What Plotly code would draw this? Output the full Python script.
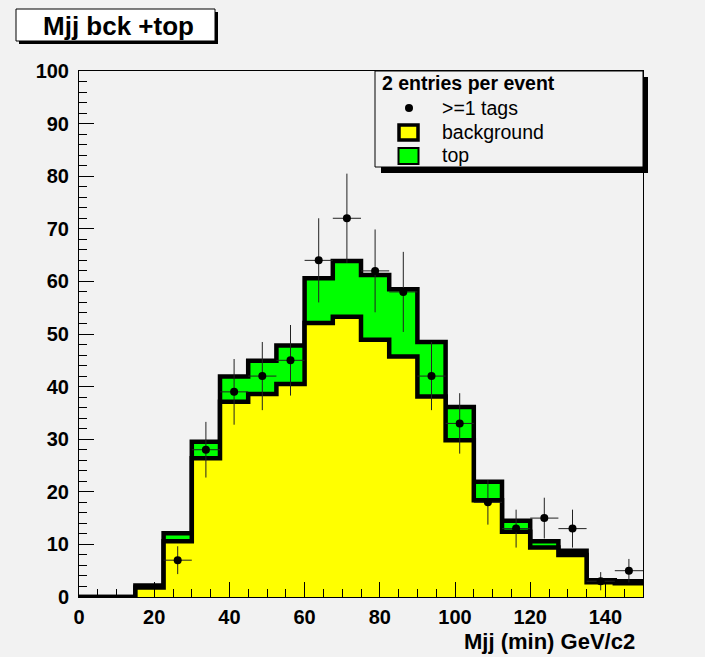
import numpy as np
import plotly.graph_objects as go

# ---- data ----
bin_edges = [0, 7.5, 15, 22.5, 30, 37.5, 45, 52.5, 60, 67.5, 75, 82.5, 90,
             97.5, 105, 112.5, 120, 127.5, 135, 142.5, 150]
background = [0, 0, 1.8, 10.6, 26.4, 37.1, 38.6, 40.5, 52.1, 53.3, 48.9, 45.7,
              38.1, 29.8, 18.4, 12.4, 9.4, 8.0, 2.8, 2.6]
bkg_plus_top = [0, 0, 2.2, 12.1, 29.5, 41.9, 44.9, 47.8, 60.6, 63.9, 61.2, 58.5,
                48.5, 36.1, 21.9, 14.5, 10.6, 8.8, 3.2, 3.0]
data_tagged = [0, 0, 0, 7, 28, 39, 42, 45, 64, 72, 62, 58, 42, 33, 18, 13, 15, 13, 3, 5]

title_text = "Mjj bck +top"
legend_title = "2 entries per event"
legend_labels = [">=1 tags", "background", "top"]
x_title = "Mjj (min) GeV/c2"

edges = np.array(bin_edges)
centers = 0.5 * (edges[:-1] + edges[1:])
half_w = 0.5 * (edges[1:] - edges[:-1])

def step(vals):
    xs = list(edges)
    ys = list(vals) + [vals[-1]]
    return xs, ys

BG = "#f2f2f2"
FONT = "Liberation Sans, Arial"
fig = go.Figure()

xs, ys = step(bkg_plus_top)
fig.add_trace(go.Scatter(x=xs, y=ys, mode="lines", line=dict(shape="hv", color="black", width=4.5),
                         fill="tozeroy", fillcolor="#00ff00", name="top", showlegend=False))
xs, ys = step(background)
fig.add_trace(go.Scatter(x=xs, y=ys, mode="lines", line=dict(shape="hv", color="black", width=4.5),
                         fill="tozeroy", fillcolor="#ffff00", name="background", showlegend=False))

dmask = [i for i, v in enumerate(data_tagged) if v > 0]
dx = [centers[i] for i in dmask]
dy = [data_tagged[i] for i in dmask]
fig.add_trace(go.Scatter(
    x=dx, y=dy, mode="markers",
    marker=dict(color="black", size=8),
    error_y=dict(type="data", array=[np.sqrt(v) for v in dy], color="#222222", thickness=1, width=0),
    error_x=dict(type="data", array=[half_w[i] for i in dmask], color="#222222", thickness=1, width=0),
    name=">=1 tags", showlegend=False))

# pixel -> paper helpers (plot area: x 79..643, y 71..597)
L, R, T, B = 79, 643, 71, 597
def px(x):
    return (x - L) / (R - L)
def py(y):
    return (B - y) / (B - T)

shapes = []
annotations = []

# title box
shapes.append(dict(type="rect", xref="paper", yref="paper", x0=px(19), x1=px(218), y0=py(12), y1=py(44),
                   fillcolor="black", line=dict(width=0), layer="above"))
shapes.append(dict(type="rect", xref="paper", yref="paper", x0=px(16), x1=px(215), y0=py(9), y1=py(41),
                   fillcolor="white", line=dict(color="black", width=1), layer="above"))
annotations.append(dict(text="<b>%s</b>" % title_text, xref="paper", yref="paper", x=px(118), y=py(26),
                        xanchor="center", yanchor="middle", showarrow=False,
                        font=dict(family=FONT, size=26, color="black")))

# legend box
shapes.append(dict(type="rect", xref="paper", yref="paper", x0=px(381), x1=px(648), y0=py(77), y1=py(173),
                   fillcolor="black", line=dict(width=0), layer="above"))
shapes.append(dict(type="rect", xref="paper", yref="paper", x0=px(375), x1=px(643), y0=py(71), y1=py(167),
                   fillcolor=BG, line=dict(color="black", width=1), layer="above"))
annotations.append(dict(text="<b>%s</b>" % legend_title, xref="paper", yref="paper", x=px(380), y=py(83),
                        xanchor="left", yanchor="middle", showarrow=False,
                        font=dict(family=FONT, size=19.5, color="black")))
entry_y = [108, 131.5, 155]
for lab, yy in zip(legend_labels, entry_y):
    annotations.append(dict(text=lab, xref="paper", yref="paper", x=px(440), y=py(yy),
                            xanchor="left", yanchor="middle", showarrow=False,
                            font=dict(family=FONT, size=19.5, color="black")))
# legend symbols
shapes.append(dict(type="circle", xref="paper", yref="paper", x0=px(405), x1=px(413), y0=py(104), y1=py(112),
                   fillcolor="black", line=dict(width=0), layer="above"))
shapes.append(dict(type="rect", xref="paper", yref="paper", x0=px(399), x1=px(418), y0=py(125), y1=py(140),
                   fillcolor="#ffff00", line=dict(color="black", width=3.5), layer="above"))
shapes.append(dict(type="rect", xref="paper", yref="paper", x0=px(398.5), x1=px(418.5), y0=py(148), y1=py(164),
                   fillcolor="#00ff00", line=dict(color="black", width=2), layer="above"))

annotations.append(dict(text="<b>%s</b>" % x_title, xref="paper", yref="paper", x=px(637), y=py(641),
                        xanchor="right", yanchor="middle", showarrow=False,
                        font=dict(family=FONT, size=22, color="black")))

tickfont = dict(family=FONT, size=20, color="black", weight="bold")
fig.update_layout(
    width=705, height=657,
    margin=dict(l=L, r=705 - R, t=T, b=657 - B, pad=0),
    paper_bgcolor=BG, plot_bgcolor=BG,
    showlegend=False,
    shapes=shapes, annotations=annotations,
    xaxis=dict(range=[0, 150], tick0=0, dtick=20, ticks="inside", ticklen=15, tickwidth=1, tickcolor="black",
               minor=dict(dtick=5, ticks="inside", ticklen=8, tickwidth=1, tickcolor="black"),
               showgrid=False, zeroline=False, showline=True, linecolor="black", linewidth=1, mirror=True,
               tickfont=tickfont, ticklabelstandoff=2),
    yaxis=dict(range=[0, 100], tick0=0, dtick=10, ticks="inside", ticklen=15, tickwidth=1, tickcolor="black",
               minor=dict(dtick=2, ticks="inside", ticklen=8, tickwidth=1, tickcolor="black"),
               showgrid=False, zeroline=False, showline=True, linecolor="black", linewidth=1, mirror=True,
               tickfont=tickfont, ticklabelstandoff=5),
)

fig.write_html("out.html")
